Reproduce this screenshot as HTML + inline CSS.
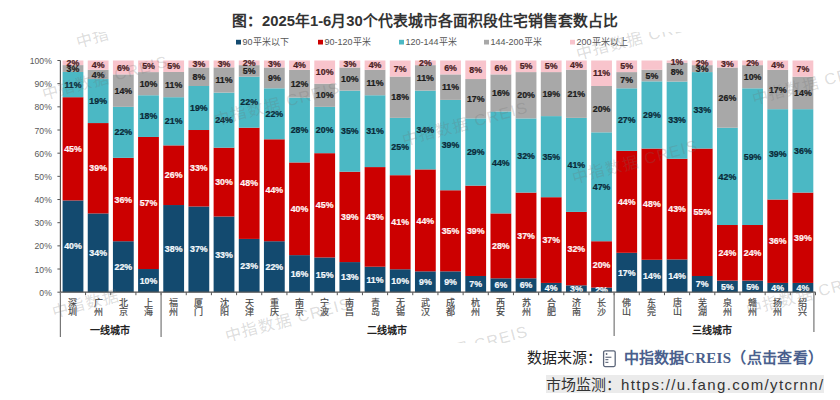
<!DOCTYPE html>
<html lang="zh-CN"><head><meta charset="utf-8">
<style>
html,body{margin:0;padding:0;background:#fff;width:840px;height:400px;overflow:hidden;}
body{position:relative;font-family:"Liberation Sans",sans-serif;}
svg{position:absolute;left:0;top:0;}
svg text{font-family:"Liberation Sans",sans-serif;font-size:9.5px;font-weight:bold;text-anchor:middle;}
svg text.yl{font-weight:normal;font-size:9.8px;fill:#595959;text-anchor:end;}
svg text.cl{font-weight:normal;font-size:9px;fill:#4a4a4a;stroke:#4a4a4a;stroke-width:0.2px;}
svg text.gl{font-weight:bold;font-size:10px;fill:#222;}
svg text.wm{font-size:16px;font-weight:normal;fill:#707070;fill-opacity:0.24;text-anchor:start;letter-spacing:1.2px;}
svg text.lg{font-weight:normal;font-size:9px;fill:#555;text-anchor:start;}
.title{position:absolute;left:232px;top:11px;line-height:20px;font-size:14.8px;font-weight:bold;color:#333;white-space:nowrap;}
.ft{position:absolute;white-space:nowrap;font-size:15px;line-height:18px;}
.src{left:527px;top:349px;color:#222;}
.brand{left:624px;top:349px;color:#4a5f8d;font-weight:bold;}
.brand .cr{font-family:"Liberation Serif",serif;letter-spacing:0.3px;}
.brand .pp{letter-spacing:0.35px;}
.mon{left:546px;top:375px;height:18px;width:278px;background:#ebebeb;color:#333;line-height:20px;overflow:hidden;}
.mon .u{letter-spacing:1.35px;}
</style></head><body>
<div class="title">图：2025年1-6月30个代表城市各面积段住宅销售套数占比</div>
<svg width="840" height="400" viewBox="0 0 840 400"><defs><clipPath id="wc"><rect x="0" y="32" width="840" height="311"/></clipPath></defs>
<rect x="62.59" y="200.44" width="20.8" height="91.76" fill="#134a6f"/>
<rect x="62.59" y="97.20" width="20.8" height="103.23" fill="#cc0000"/>
<rect x="62.59" y="71.97" width="20.8" height="25.23" fill="#4bb8c4"/>
<rect x="62.59" y="65.09" width="20.8" height="6.88" fill="#a8a8a8"/>
<rect x="62.59" y="60.50" width="20.8" height="4.59" fill="#f8c4cc"/>
<text transform="translate(72.98,249.47) scale(0.93,1)" fill="#f4f8fb" stroke="#f4f8fb" stroke-width="0.25">40%</text>
<text transform="translate(72.98,151.97) scale(0.93,1)" fill="#fff4f4" stroke="#fff4f4" stroke-width="0.25">45%</text>
<text transform="translate(72.98,87.74) scale(0.93,1)" fill="#0a2a38" stroke="#0a2a38" stroke-width="0.25">11%</text>
<text transform="translate(72.98,71.68) scale(0.93,1)" fill="#1c1c1c" stroke="#1c1c1c" stroke-width="0.25">3%</text>
<text transform="translate(72.98,65.94) scale(0.93,1)" fill="#4a1e24" stroke="#4a1e24" stroke-width="0.25">2%</text>
<rect x="87.75" y="213.42" width="20.8" height="78.78" fill="#134a6f"/>
<rect x="87.75" y="123.06" width="20.8" height="90.36" fill="#cc0000"/>
<rect x="87.75" y="79.04" width="20.8" height="44.02" fill="#4bb8c4"/>
<rect x="87.75" y="69.77" width="20.8" height="9.27" fill="#a8a8a8"/>
<rect x="87.75" y="60.50" width="20.8" height="9.27" fill="#f8c4cc"/>
<text transform="translate(98.16,255.96) scale(0.93,1)" fill="#f4f8fb" stroke="#f4f8fb" stroke-width="0.25">34%</text>
<text transform="translate(98.16,171.39) scale(0.93,1)" fill="#fff4f4" stroke="#fff4f4" stroke-width="0.25">39%</text>
<text transform="translate(98.16,104.20) scale(0.93,1)" fill="#0a2a38" stroke="#0a2a38" stroke-width="0.25">19%</text>
<text transform="translate(98.16,77.55) scale(0.93,1)" fill="#1c1c1c" stroke="#1c1c1c" stroke-width="0.25">4%</text>
<text transform="translate(98.16,68.28) scale(0.93,1)" fill="#4a1e24" stroke="#4a1e24" stroke-width="0.25">4%</text>
<rect x="112.93" y="241.23" width="20.8" height="50.97" fill="#134a6f"/>
<rect x="112.93" y="157.81" width="20.8" height="83.41" fill="#cc0000"/>
<rect x="112.93" y="106.84" width="20.8" height="50.97" fill="#4bb8c4"/>
<rect x="112.93" y="74.40" width="20.8" height="32.44" fill="#a8a8a8"/>
<rect x="112.93" y="60.50" width="20.8" height="13.90" fill="#f8c4cc"/>
<text transform="translate(123.33,269.86) scale(0.93,1)" fill="#f4f8fb" stroke="#f4f8fb" stroke-width="0.25">22%</text>
<text transform="translate(123.33,202.67) scale(0.93,1)" fill="#fff4f4" stroke="#fff4f4" stroke-width="0.25">36%</text>
<text transform="translate(123.33,135.48) scale(0.93,1)" fill="#0a2a38" stroke="#0a2a38" stroke-width="0.25">22%</text>
<text transform="translate(123.33,93.77) scale(0.93,1)" fill="#1c1c1c" stroke="#1c1c1c" stroke-width="0.25">14%</text>
<text transform="translate(123.33,70.60) scale(0.93,1)" fill="#4a1e24" stroke="#4a1e24" stroke-width="0.25">6%</text>
<rect x="138.09" y="269.03" width="20.8" height="23.17" fill="#134a6f"/>
<rect x="138.09" y="136.96" width="20.8" height="132.07" fill="#cc0000"/>
<rect x="138.09" y="95.25" width="20.8" height="41.71" fill="#4bb8c4"/>
<rect x="138.09" y="72.09" width="20.8" height="23.17" fill="#a8a8a8"/>
<rect x="138.09" y="60.50" width="20.8" height="11.59" fill="#f8c4cc"/>
<text transform="translate(148.50,283.76) scale(0.93,1)" fill="#f4f8fb" stroke="#f4f8fb" stroke-width="0.25">10%</text>
<text transform="translate(148.50,206.15) scale(0.93,1)" fill="#fff4f4" stroke="#fff4f4" stroke-width="0.25">57%</text>
<text transform="translate(148.50,119.26) scale(0.93,1)" fill="#0a2a38" stroke="#0a2a38" stroke-width="0.25">18%</text>
<text transform="translate(148.50,86.82) scale(0.93,1)" fill="#1c1c1c" stroke="#1c1c1c" stroke-width="0.25">10%</text>
<text transform="translate(148.50,69.44) scale(0.93,1)" fill="#4a1e24" stroke="#4a1e24" stroke-width="0.25">5%</text>
<rect x="163.27" y="205.03" width="20.8" height="87.17" fill="#134a6f"/>
<rect x="163.27" y="145.38" width="20.8" height="59.65" fill="#cc0000"/>
<rect x="163.27" y="97.20" width="20.8" height="48.18" fill="#4bb8c4"/>
<rect x="163.27" y="71.97" width="20.8" height="25.23" fill="#a8a8a8"/>
<rect x="163.27" y="60.50" width="20.8" height="11.47" fill="#f8c4cc"/>
<text transform="translate(173.67,251.76) scale(0.93,1)" fill="#f4f8fb" stroke="#f4f8fb" stroke-width="0.25">38%</text>
<text transform="translate(173.67,178.35) scale(0.93,1)" fill="#fff4f4" stroke="#fff4f4" stroke-width="0.25">26%</text>
<text transform="translate(173.67,124.44) scale(0.93,1)" fill="#0a2a38" stroke="#0a2a38" stroke-width="0.25">21%</text>
<text transform="translate(173.67,87.74) scale(0.93,1)" fill="#1c1c1c" stroke="#1c1c1c" stroke-width="0.25">11%</text>
<text transform="translate(173.67,69.39) scale(0.93,1)" fill="#4a1e24" stroke="#4a1e24" stroke-width="0.25">5%</text>
<rect x="188.44" y="206.47" width="20.8" height="85.73" fill="#134a6f"/>
<rect x="188.44" y="130.01" width="20.8" height="76.46" fill="#cc0000"/>
<rect x="188.44" y="85.99" width="20.8" height="44.02" fill="#4bb8c4"/>
<rect x="188.44" y="67.45" width="20.8" height="18.54" fill="#a8a8a8"/>
<rect x="188.44" y="60.50" width="20.8" height="6.95" fill="#f8c4cc"/>
<text transform="translate(198.84,252.49) scale(0.93,1)" fill="#f4f8fb" stroke="#f4f8fb" stroke-width="0.25">37%</text>
<text transform="translate(198.84,171.39) scale(0.93,1)" fill="#fff4f4" stroke="#fff4f4" stroke-width="0.25">33%</text>
<text transform="translate(198.84,111.15) scale(0.93,1)" fill="#0a2a38" stroke="#0a2a38" stroke-width="0.25">19%</text>
<text transform="translate(198.84,79.87) scale(0.93,1)" fill="#1c1c1c" stroke="#1c1c1c" stroke-width="0.25">8%</text>
<text transform="translate(198.84,67.13) scale(0.93,1)" fill="#4a1e24" stroke="#4a1e24" stroke-width="0.25">3%</text>
<rect x="213.61" y="216.50" width="20.8" height="75.70" fill="#134a6f"/>
<rect x="213.61" y="147.67" width="20.8" height="68.82" fill="#cc0000"/>
<rect x="213.61" y="92.62" width="20.8" height="55.06" fill="#4bb8c4"/>
<rect x="213.61" y="67.38" width="20.8" height="25.23" fill="#a8a8a8"/>
<rect x="213.61" y="60.50" width="20.8" height="6.88" fill="#f8c4cc"/>
<text transform="translate(224.01,257.50) scale(0.93,1)" fill="#f4f8fb" stroke="#f4f8fb" stroke-width="0.25">33%</text>
<text transform="translate(224.01,185.24) scale(0.93,1)" fill="#fff4f4" stroke="#fff4f4" stroke-width="0.25">30%</text>
<text transform="translate(224.01,123.30) scale(0.93,1)" fill="#0a2a38" stroke="#0a2a38" stroke-width="0.25">24%</text>
<text transform="translate(224.01,83.15) scale(0.93,1)" fill="#1c1c1c" stroke="#1c1c1c" stroke-width="0.25">11%</text>
<text transform="translate(224.01,67.09) scale(0.93,1)" fill="#4a1e24" stroke="#4a1e24" stroke-width="0.25">3%</text>
<rect x="238.78" y="238.91" width="20.8" height="53.29" fill="#134a6f"/>
<rect x="238.78" y="127.69" width="20.8" height="111.22" fill="#cc0000"/>
<rect x="238.78" y="76.72" width="20.8" height="50.97" fill="#4bb8c4"/>
<rect x="238.78" y="65.13" width="20.8" height="11.58" fill="#a8a8a8"/>
<rect x="238.78" y="60.50" width="20.8" height="4.63" fill="#f8c4cc"/>
<text transform="translate(249.18,268.70) scale(0.93,1)" fill="#f4f8fb" stroke="#f4f8fb" stroke-width="0.25">23%</text>
<text transform="translate(249.18,186.45) scale(0.93,1)" fill="#fff4f4" stroke="#fff4f4" stroke-width="0.25">48%</text>
<text transform="translate(249.18,105.36) scale(0.93,1)" fill="#0a2a38" stroke="#0a2a38" stroke-width="0.25">22%</text>
<text transform="translate(249.18,74.08) scale(0.93,1)" fill="#1c1c1c" stroke="#1c1c1c" stroke-width="0.25">5%</text>
<text transform="translate(249.18,65.97) scale(0.93,1)" fill="#4a1e24" stroke="#4a1e24" stroke-width="0.25">2%</text>
<rect x="263.94" y="241.23" width="20.8" height="50.97" fill="#134a6f"/>
<rect x="263.94" y="139.28" width="20.8" height="101.95" fill="#cc0000"/>
<rect x="263.94" y="88.30" width="20.8" height="50.97" fill="#4bb8c4"/>
<rect x="263.94" y="67.45" width="20.8" height="20.85" fill="#a8a8a8"/>
<rect x="263.94" y="60.50" width="20.8" height="6.95" fill="#f8c4cc"/>
<text transform="translate(274.34,269.86) scale(0.93,1)" fill="#f4f8fb" stroke="#f4f8fb" stroke-width="0.25">22%</text>
<text transform="translate(274.34,193.40) scale(0.93,1)" fill="#fff4f4" stroke="#fff4f4" stroke-width="0.25">44%</text>
<text transform="translate(274.34,116.94) scale(0.93,1)" fill="#0a2a38" stroke="#0a2a38" stroke-width="0.25">22%</text>
<text transform="translate(274.34,81.03) scale(0.93,1)" fill="#1c1c1c" stroke="#1c1c1c" stroke-width="0.25">9%</text>
<text transform="translate(274.34,67.13) scale(0.93,1)" fill="#4a1e24" stroke="#4a1e24" stroke-width="0.25">3%</text>
<rect x="289.12" y="255.13" width="20.8" height="37.07" fill="#134a6f"/>
<rect x="289.12" y="162.45" width="20.8" height="92.68" fill="#cc0000"/>
<rect x="289.12" y="97.57" width="20.8" height="64.88" fill="#4bb8c4"/>
<rect x="289.12" y="69.77" width="20.8" height="27.80" fill="#a8a8a8"/>
<rect x="289.12" y="60.50" width="20.8" height="9.27" fill="#f8c4cc"/>
<text transform="translate(299.51,276.81) scale(0.93,1)" fill="#f4f8fb" stroke="#f4f8fb" stroke-width="0.25">16%</text>
<text transform="translate(299.51,211.94) scale(0.93,1)" fill="#fff4f4" stroke="#fff4f4" stroke-width="0.25">40%</text>
<text transform="translate(299.51,133.16) scale(0.93,1)" fill="#0a2a38" stroke="#0a2a38" stroke-width="0.25">28%</text>
<text transform="translate(299.51,86.82) scale(0.93,1)" fill="#1c1c1c" stroke="#1c1c1c" stroke-width="0.25">12%</text>
<text transform="translate(299.51,68.28) scale(0.93,1)" fill="#4a1e24" stroke="#4a1e24" stroke-width="0.25">4%</text>
<rect x="314.29" y="257.44" width="20.8" height="34.75" fill="#134a6f"/>
<rect x="314.29" y="153.18" width="20.8" height="104.26" fill="#cc0000"/>
<rect x="314.29" y="106.84" width="20.8" height="46.34" fill="#4bb8c4"/>
<rect x="314.29" y="83.67" width="20.8" height="23.17" fill="#a8a8a8"/>
<rect x="314.29" y="60.50" width="20.8" height="23.17" fill="#f8c4cc"/>
<text transform="translate(324.69,277.97) scale(0.93,1)" fill="#f4f8fb" stroke="#f4f8fb" stroke-width="0.25">15%</text>
<text transform="translate(324.69,208.46) scale(0.93,1)" fill="#fff4f4" stroke="#fff4f4" stroke-width="0.25">45%</text>
<text transform="translate(324.69,133.16) scale(0.93,1)" fill="#0a2a38" stroke="#0a2a38" stroke-width="0.25">20%</text>
<text transform="translate(324.69,98.40) scale(0.93,1)" fill="#1c1c1c" stroke="#1c1c1c" stroke-width="0.25">10%</text>
<text transform="translate(324.69,75.23) scale(0.93,1)" fill="#4a1e24" stroke="#4a1e24" stroke-width="0.25">10%</text>
<rect x="339.45" y="262.08" width="20.8" height="30.12" fill="#134a6f"/>
<rect x="339.45" y="171.72" width="20.8" height="90.36" fill="#cc0000"/>
<rect x="339.45" y="90.62" width="20.8" height="81.09" fill="#4bb8c4"/>
<rect x="339.45" y="67.45" width="20.8" height="23.17" fill="#a8a8a8"/>
<rect x="339.45" y="60.50" width="20.8" height="6.95" fill="#f8c4cc"/>
<text transform="translate(349.85,280.29) scale(0.93,1)" fill="#f4f8fb" stroke="#f4f8fb" stroke-width="0.25">13%</text>
<text transform="translate(349.85,220.05) scale(0.93,1)" fill="#fff4f4" stroke="#fff4f4" stroke-width="0.25">39%</text>
<text transform="translate(349.85,134.32) scale(0.93,1)" fill="#0a2a38" stroke="#0a2a38" stroke-width="0.25">35%</text>
<text transform="translate(349.85,82.19) scale(0.93,1)" fill="#1c1c1c" stroke="#1c1c1c" stroke-width="0.25">10%</text>
<text transform="translate(349.85,67.13) scale(0.93,1)" fill="#4a1e24" stroke="#4a1e24" stroke-width="0.25">3%</text>
<rect x="364.62" y="266.71" width="20.8" height="25.49" fill="#134a6f"/>
<rect x="364.62" y="167.08" width="20.8" height="99.63" fill="#cc0000"/>
<rect x="364.62" y="95.25" width="20.8" height="71.83" fill="#4bb8c4"/>
<rect x="364.62" y="69.77" width="20.8" height="25.49" fill="#a8a8a8"/>
<rect x="364.62" y="60.50" width="20.8" height="9.27" fill="#f8c4cc"/>
<text transform="translate(375.02,282.61) scale(0.93,1)" fill="#f4f8fb" stroke="#f4f8fb" stroke-width="0.25">11%</text>
<text transform="translate(375.02,220.05) scale(0.93,1)" fill="#fff4f4" stroke="#fff4f4" stroke-width="0.25">43%</text>
<text transform="translate(375.02,134.32) scale(0.93,1)" fill="#0a2a38" stroke="#0a2a38" stroke-width="0.25">31%</text>
<text transform="translate(375.02,85.66) scale(0.93,1)" fill="#1c1c1c" stroke="#1c1c1c" stroke-width="0.25">11%</text>
<text transform="translate(375.02,68.28) scale(0.93,1)" fill="#4a1e24" stroke="#4a1e24" stroke-width="0.25">4%</text>
<rect x="389.80" y="269.26" width="20.8" height="22.94" fill="#134a6f"/>
<rect x="389.80" y="175.20" width="20.8" height="94.06" fill="#cc0000"/>
<rect x="389.80" y="117.85" width="20.8" height="57.35" fill="#4bb8c4"/>
<rect x="389.80" y="76.56" width="20.8" height="41.29" fill="#a8a8a8"/>
<rect x="389.80" y="60.50" width="20.8" height="16.06" fill="#f8c4cc"/>
<text transform="translate(400.19,283.88) scale(0.93,1)" fill="#f4f8fb" stroke="#f4f8fb" stroke-width="0.25">10%</text>
<text transform="translate(400.19,225.38) scale(0.93,1)" fill="#fff4f4" stroke="#fff4f4" stroke-width="0.25">41%</text>
<text transform="translate(400.19,149.68) scale(0.93,1)" fill="#0a2a38" stroke="#0a2a38" stroke-width="0.25">25%</text>
<text transform="translate(400.19,100.35) scale(0.93,1)" fill="#1c1c1c" stroke="#1c1c1c" stroke-width="0.25">18%</text>
<text transform="translate(400.19,71.68) scale(0.93,1)" fill="#4a1e24" stroke="#4a1e24" stroke-width="0.25">7%</text>
<rect x="414.96" y="271.35" width="20.8" height="20.85" fill="#134a6f"/>
<rect x="414.96" y="169.40" width="20.8" height="101.95" fill="#cc0000"/>
<rect x="414.96" y="90.62" width="20.8" height="78.78" fill="#4bb8c4"/>
<rect x="414.96" y="65.13" width="20.8" height="25.49" fill="#a8a8a8"/>
<rect x="414.96" y="60.50" width="20.8" height="4.63" fill="#f8c4cc"/>
<text transform="translate(425.36,284.92) scale(0.93,1)" fill="#f4f8fb" stroke="#f4f8fb" stroke-width="0.25">9%</text>
<text transform="translate(425.36,223.52) scale(0.93,1)" fill="#fff4f4" stroke="#fff4f4" stroke-width="0.25">44%</text>
<text transform="translate(425.36,133.16) scale(0.93,1)" fill="#0a2a38" stroke="#0a2a38" stroke-width="0.25">34%</text>
<text transform="translate(425.36,81.03) scale(0.93,1)" fill="#1c1c1c" stroke="#1c1c1c" stroke-width="0.25">11%</text>
<text transform="translate(425.36,65.97) scale(0.93,1)" fill="#4a1e24" stroke="#4a1e24" stroke-width="0.25">2%</text>
<rect x="440.13" y="271.35" width="20.8" height="20.85" fill="#134a6f"/>
<rect x="440.13" y="190.25" width="20.8" height="81.09" fill="#cc0000"/>
<rect x="440.13" y="99.89" width="20.8" height="90.36" fill="#4bb8c4"/>
<rect x="440.13" y="74.40" width="20.8" height="25.49" fill="#a8a8a8"/>
<rect x="440.13" y="60.50" width="20.8" height="13.90" fill="#f8c4cc"/>
<text transform="translate(450.53,284.92) scale(0.93,1)" fill="#f4f8fb" stroke="#f4f8fb" stroke-width="0.25">9%</text>
<text transform="translate(450.53,233.95) scale(0.93,1)" fill="#fff4f4" stroke="#fff4f4" stroke-width="0.25">35%</text>
<text transform="translate(450.53,148.22) scale(0.93,1)" fill="#0a2a38" stroke="#0a2a38" stroke-width="0.25">39%</text>
<text transform="translate(450.53,90.30) scale(0.93,1)" fill="#1c1c1c" stroke="#1c1c1c" stroke-width="0.25">11%</text>
<text transform="translate(450.53,70.60) scale(0.93,1)" fill="#4a1e24" stroke="#4a1e24" stroke-width="0.25">6%</text>
<rect x="465.31" y="275.98" width="20.8" height="16.22" fill="#134a6f"/>
<rect x="465.31" y="185.62" width="20.8" height="90.36" fill="#cc0000"/>
<rect x="465.31" y="118.43" width="20.8" height="67.19" fill="#4bb8c4"/>
<rect x="465.31" y="79.04" width="20.8" height="39.39" fill="#a8a8a8"/>
<rect x="465.31" y="60.50" width="20.8" height="18.54" fill="#f8c4cc"/>
<text transform="translate(475.70,287.24) scale(0.93,1)" fill="#f4f8fb" stroke="#f4f8fb" stroke-width="0.25">7%</text>
<text transform="translate(475.70,233.95) scale(0.93,1)" fill="#fff4f4" stroke="#fff4f4" stroke-width="0.25">39%</text>
<text transform="translate(475.70,155.17) scale(0.93,1)" fill="#0a2a38" stroke="#0a2a38" stroke-width="0.25">29%</text>
<text transform="translate(475.70,101.88) scale(0.93,1)" fill="#1c1c1c" stroke="#1c1c1c" stroke-width="0.25">17%</text>
<text transform="translate(475.70,72.92) scale(0.93,1)" fill="#4a1e24" stroke="#4a1e24" stroke-width="0.25">8%</text>
<rect x="490.48" y="278.30" width="20.8" height="13.90" fill="#134a6f"/>
<rect x="490.48" y="213.42" width="20.8" height="64.88" fill="#cc0000"/>
<rect x="490.48" y="111.47" width="20.8" height="101.95" fill="#4bb8c4"/>
<rect x="490.48" y="74.40" width="20.8" height="37.07" fill="#a8a8a8"/>
<rect x="490.48" y="60.50" width="20.8" height="13.90" fill="#f8c4cc"/>
<text transform="translate(500.88,288.40) scale(0.93,1)" fill="#f4f8fb" stroke="#f4f8fb" stroke-width="0.25">6%</text>
<text transform="translate(500.88,249.01) scale(0.93,1)" fill="#fff4f4" stroke="#fff4f4" stroke-width="0.25">28%</text>
<text transform="translate(500.88,165.60) scale(0.93,1)" fill="#0a2a38" stroke="#0a2a38" stroke-width="0.25">44%</text>
<text transform="translate(500.88,96.09) scale(0.93,1)" fill="#1c1c1c" stroke="#1c1c1c" stroke-width="0.25">16%</text>
<text transform="translate(500.88,70.60) scale(0.93,1)" fill="#4a1e24" stroke="#4a1e24" stroke-width="0.25">6%</text>
<rect x="515.64" y="278.30" width="20.8" height="13.90" fill="#134a6f"/>
<rect x="515.64" y="192.57" width="20.8" height="85.73" fill="#cc0000"/>
<rect x="515.64" y="118.43" width="20.8" height="74.14" fill="#4bb8c4"/>
<rect x="515.64" y="72.09" width="20.8" height="46.34" fill="#a8a8a8"/>
<rect x="515.64" y="60.50" width="20.8" height="11.59" fill="#f8c4cc"/>
<text transform="translate(526.04,288.40) scale(0.93,1)" fill="#f4f8fb" stroke="#f4f8fb" stroke-width="0.25">6%</text>
<text transform="translate(526.04,238.58) scale(0.93,1)" fill="#fff4f4" stroke="#fff4f4" stroke-width="0.25">37%</text>
<text transform="translate(526.04,158.65) scale(0.93,1)" fill="#0a2a38" stroke="#0a2a38" stroke-width="0.25">32%</text>
<text transform="translate(526.04,98.41) scale(0.93,1)" fill="#1c1c1c" stroke="#1c1c1c" stroke-width="0.25">20%</text>
<text transform="translate(526.04,69.44) scale(0.93,1)" fill="#4a1e24" stroke="#4a1e24" stroke-width="0.25">5%</text>
<rect x="540.81" y="282.93" width="20.8" height="9.27" fill="#134a6f"/>
<rect x="540.81" y="197.20" width="20.8" height="85.73" fill="#cc0000"/>
<rect x="540.81" y="116.11" width="20.8" height="81.09" fill="#4bb8c4"/>
<rect x="540.81" y="72.09" width="20.8" height="44.02" fill="#a8a8a8"/>
<rect x="540.81" y="60.50" width="20.8" height="11.59" fill="#f8c4cc"/>
<text transform="translate(551.21,290.72) scale(0.93,1)" fill="#f4f8fb" stroke="#f4f8fb" stroke-width="0.25">4%</text>
<text transform="translate(551.21,243.22) scale(0.93,1)" fill="#fff4f4" stroke="#fff4f4" stroke-width="0.25">37%</text>
<text transform="translate(551.21,159.81) scale(0.93,1)" fill="#0a2a38" stroke="#0a2a38" stroke-width="0.25">35%</text>
<text transform="translate(551.21,97.25) scale(0.93,1)" fill="#1c1c1c" stroke="#1c1c1c" stroke-width="0.25">19%</text>
<text transform="translate(551.21,69.44) scale(0.93,1)" fill="#4a1e24" stroke="#4a1e24" stroke-width="0.25">5%</text>
<rect x="565.99" y="285.32" width="20.8" height="6.88" fill="#134a6f"/>
<rect x="565.99" y="211.91" width="20.8" height="73.41" fill="#cc0000"/>
<rect x="565.99" y="117.85" width="20.8" height="94.06" fill="#4bb8c4"/>
<rect x="565.99" y="69.68" width="20.8" height="48.18" fill="#a8a8a8"/>
<rect x="565.99" y="60.50" width="20.8" height="9.18" fill="#f8c4cc"/>
<text transform="translate(576.38,291.91) scale(0.93,1)" fill="#f4f8fb" stroke="#f4f8fb" stroke-width="0.25">3%</text>
<text transform="translate(576.38,251.76) scale(0.93,1)" fill="#fff4f4" stroke="#fff4f4" stroke-width="0.25">32%</text>
<text transform="translate(576.38,168.03) scale(0.93,1)" fill="#0a2a38" stroke="#0a2a38" stroke-width="0.25">41%</text>
<text transform="translate(576.38,96.91) scale(0.93,1)" fill="#1c1c1c" stroke="#1c1c1c" stroke-width="0.25">21%</text>
<text transform="translate(576.38,68.24) scale(0.93,1)" fill="#4a1e24" stroke="#4a1e24" stroke-width="0.25">4%</text>
<rect x="591.15" y="287.57" width="20.8" height="4.63" fill="#134a6f"/>
<rect x="591.15" y="241.23" width="20.8" height="46.34" fill="#cc0000"/>
<rect x="591.15" y="132.33" width="20.8" height="108.90" fill="#4bb8c4"/>
<rect x="591.15" y="85.99" width="20.8" height="46.34" fill="#a8a8a8"/>
<rect x="591.15" y="60.50" width="20.8" height="25.49" fill="#f8c4cc"/>
<text transform="translate(601.55,293.03) scale(0.93,1)" fill="#f4f8fb" stroke="#f4f8fb" stroke-width="0.25">2%</text>
<text transform="translate(601.55,267.55) scale(0.93,1)" fill="#fff4f4" stroke="#fff4f4" stroke-width="0.25">20%</text>
<text transform="translate(601.55,189.93) scale(0.93,1)" fill="#0a2a38" stroke="#0a2a38" stroke-width="0.25">47%</text>
<text transform="translate(601.55,112.31) scale(0.93,1)" fill="#1c1c1c" stroke="#1c1c1c" stroke-width="0.25">20%</text>
<text transform="translate(601.55,76.39) scale(0.93,1)" fill="#4a1e24" stroke="#4a1e24" stroke-width="0.25">11%</text>
<rect x="616.32" y="252.81" width="20.8" height="39.39" fill="#134a6f"/>
<rect x="616.32" y="150.86" width="20.8" height="101.95" fill="#cc0000"/>
<rect x="616.32" y="88.30" width="20.8" height="62.56" fill="#4bb8c4"/>
<rect x="616.32" y="72.09" width="20.8" height="16.22" fill="#a8a8a8"/>
<rect x="616.32" y="60.50" width="20.8" height="11.59" fill="#f8c4cc"/>
<text transform="translate(626.72,275.66) scale(0.93,1)" fill="#f4f8fb" stroke="#f4f8fb" stroke-width="0.25">17%</text>
<text transform="translate(626.72,204.99) scale(0.93,1)" fill="#fff4f4" stroke="#fff4f4" stroke-width="0.25">44%</text>
<text transform="translate(626.72,122.73) scale(0.93,1)" fill="#0a2a38" stroke="#0a2a38" stroke-width="0.25">27%</text>
<text transform="translate(626.72,83.34) scale(0.93,1)" fill="#1c1c1c" stroke="#1c1c1c" stroke-width="0.25">7%</text>
<text transform="translate(626.72,69.44) scale(0.93,1)" fill="#4a1e24" stroke="#4a1e24" stroke-width="0.25">5%</text>
<rect x="641.50" y="259.76" width="20.8" height="32.44" fill="#134a6f"/>
<rect x="641.50" y="148.55" width="20.8" height="111.22" fill="#cc0000"/>
<rect x="641.50" y="81.35" width="20.8" height="67.19" fill="#4bb8c4"/>
<rect x="641.50" y="69.77" width="20.8" height="11.58" fill="#a8a8a8"/>
<rect x="641.50" y="60.50" width="20.8" height="9.27" fill="#f8c4cc"/>
<text transform="translate(651.89,279.13) scale(0.93,1)" fill="#f4f8fb" stroke="#f4f8fb" stroke-width="0.25">14%</text>
<text transform="translate(651.89,207.30) scale(0.93,1)" fill="#fff4f4" stroke="#fff4f4" stroke-width="0.25">48%</text>
<text transform="translate(651.89,118.10) scale(0.93,1)" fill="#0a2a38" stroke="#0a2a38" stroke-width="0.25">29%</text>
<text transform="translate(651.89,78.71) scale(0.93,1)" fill="#1c1c1c" stroke="#1c1c1c" stroke-width="0.25">5%</text>
<rect x="666.66" y="259.43" width="20.8" height="32.77" fill="#134a6f"/>
<rect x="666.66" y="158.80" width="20.8" height="100.64" fill="#cc0000"/>
<rect x="666.66" y="81.56" width="20.8" height="77.23" fill="#4bb8c4"/>
<rect x="666.66" y="62.84" width="20.8" height="18.72" fill="#a8a8a8"/>
<rect x="666.66" y="60.50" width="20.8" height="2.34" fill="#f8c4cc"/>
<text transform="translate(677.06,278.97) scale(0.93,1)" fill="#f4f8fb" stroke="#f4f8fb" stroke-width="0.25">14%</text>
<text transform="translate(677.06,212.27) scale(0.93,1)" fill="#fff4f4" stroke="#fff4f4" stroke-width="0.25">43%</text>
<text transform="translate(677.06,123.33) scale(0.93,1)" fill="#0a2a38" stroke="#0a2a38" stroke-width="0.25">33%</text>
<text transform="translate(677.06,75.35) scale(0.93,1)" fill="#1c1c1c" stroke="#1c1c1c" stroke-width="0.25">8%</text>
<text transform="translate(677.06,64.82) scale(0.93,1)" fill="#4a1e24" stroke="#4a1e24" stroke-width="0.25">1%</text>
<rect x="691.83" y="275.98" width="20.8" height="16.22" fill="#134a6f"/>
<rect x="691.83" y="148.55" width="20.8" height="127.44" fill="#cc0000"/>
<rect x="691.83" y="72.09" width="20.8" height="76.46" fill="#4bb8c4"/>
<rect x="691.83" y="65.13" width="20.8" height="6.95" fill="#a8a8a8"/>
<rect x="691.83" y="60.50" width="20.8" height="4.63" fill="#f8c4cc"/>
<text transform="translate(702.23,287.24) scale(0.93,1)" fill="#f4f8fb" stroke="#f4f8fb" stroke-width="0.25">7%</text>
<text transform="translate(702.23,215.41) scale(0.93,1)" fill="#fff4f4" stroke="#fff4f4" stroke-width="0.25">55%</text>
<text transform="translate(702.23,113.47) scale(0.93,1)" fill="#0a2a38" stroke="#0a2a38" stroke-width="0.25">33%</text>
<text transform="translate(702.23,71.76) scale(0.93,1)" fill="#1c1c1c" stroke="#1c1c1c" stroke-width="0.25">3%</text>
<text transform="translate(702.23,65.97) scale(0.93,1)" fill="#4a1e24" stroke="#4a1e24" stroke-width="0.25">2%</text>
<rect x="717.00" y="280.62" width="20.8" height="11.58" fill="#134a6f"/>
<rect x="717.00" y="225.01" width="20.8" height="55.61" fill="#cc0000"/>
<rect x="717.00" y="127.69" width="20.8" height="97.31" fill="#4bb8c4"/>
<rect x="717.00" y="67.45" width="20.8" height="60.24" fill="#a8a8a8"/>
<rect x="717.00" y="60.50" width="20.8" height="6.95" fill="#f8c4cc"/>
<text transform="translate(727.40,289.56) scale(0.93,1)" fill="#f4f8fb" stroke="#f4f8fb" stroke-width="0.25">5%</text>
<text transform="translate(727.40,255.96) scale(0.93,1)" fill="#fff4f4" stroke="#fff4f4" stroke-width="0.25">24%</text>
<text transform="translate(727.40,179.50) scale(0.93,1)" fill="#0a2a38" stroke="#0a2a38" stroke-width="0.25">42%</text>
<text transform="translate(727.40,100.72) scale(0.93,1)" fill="#1c1c1c" stroke="#1c1c1c" stroke-width="0.25">26%</text>
<text transform="translate(727.40,67.13) scale(0.93,1)" fill="#4a1e24" stroke="#4a1e24" stroke-width="0.25">3%</text>
<rect x="742.17" y="280.62" width="20.8" height="11.58" fill="#134a6f"/>
<rect x="742.17" y="225.01" width="20.8" height="55.61" fill="#cc0000"/>
<rect x="742.17" y="88.30" width="20.8" height="136.70" fill="#4bb8c4"/>
<rect x="742.17" y="65.13" width="20.8" height="23.17" fill="#a8a8a8"/>
<rect x="742.17" y="60.50" width="20.8" height="4.63" fill="#f8c4cc"/>
<text transform="translate(752.57,289.56) scale(0.93,1)" fill="#f4f8fb" stroke="#f4f8fb" stroke-width="0.25">5%</text>
<text transform="translate(752.57,255.96) scale(0.93,1)" fill="#fff4f4" stroke="#fff4f4" stroke-width="0.25">24%</text>
<text transform="translate(752.57,159.81) scale(0.93,1)" fill="#0a2a38" stroke="#0a2a38" stroke-width="0.25">59%</text>
<text transform="translate(752.57,79.87) scale(0.93,1)" fill="#1c1c1c" stroke="#1c1c1c" stroke-width="0.25">10%</text>
<text transform="translate(752.57,65.97) scale(0.93,1)" fill="#4a1e24" stroke="#4a1e24" stroke-width="0.25">2%</text>
<rect x="767.34" y="282.93" width="20.8" height="9.27" fill="#134a6f"/>
<rect x="767.34" y="199.52" width="20.8" height="83.41" fill="#cc0000"/>
<rect x="767.34" y="109.16" width="20.8" height="90.36" fill="#4bb8c4"/>
<rect x="767.34" y="69.77" width="20.8" height="39.39" fill="#a8a8a8"/>
<rect x="767.34" y="60.50" width="20.8" height="9.27" fill="#f8c4cc"/>
<text transform="translate(777.74,290.72) scale(0.93,1)" fill="#f4f8fb" stroke="#f4f8fb" stroke-width="0.25">4%</text>
<text transform="translate(777.74,244.38) scale(0.93,1)" fill="#fff4f4" stroke="#fff4f4" stroke-width="0.25">36%</text>
<text transform="translate(777.74,157.49) scale(0.93,1)" fill="#0a2a38" stroke="#0a2a38" stroke-width="0.25">39%</text>
<text transform="translate(777.74,92.61) scale(0.93,1)" fill="#1c1c1c" stroke="#1c1c1c" stroke-width="0.25">17%</text>
<text transform="translate(777.74,68.28) scale(0.93,1)" fill="#4a1e24" stroke="#4a1e24" stroke-width="0.25">4%</text>
<rect x="792.51" y="282.93" width="20.8" height="9.27" fill="#134a6f"/>
<rect x="792.51" y="192.57" width="20.8" height="90.36" fill="#cc0000"/>
<rect x="792.51" y="109.16" width="20.8" height="83.41" fill="#4bb8c4"/>
<rect x="792.51" y="76.72" width="20.8" height="32.44" fill="#a8a8a8"/>
<rect x="792.51" y="60.50" width="20.8" height="16.22" fill="#f8c4cc"/>
<text transform="translate(802.91,290.72) scale(0.93,1)" fill="#f4f8fb" stroke="#f4f8fb" stroke-width="0.25">4%</text>
<text transform="translate(802.91,240.90) scale(0.93,1)" fill="#fff4f4" stroke="#fff4f4" stroke-width="0.25">39%</text>
<text transform="translate(802.91,154.01) scale(0.93,1)" fill="#0a2a38" stroke="#0a2a38" stroke-width="0.25">36%</text>
<text transform="translate(802.91,96.09) scale(0.93,1)" fill="#1c1c1c" stroke="#1c1c1c" stroke-width="0.25">14%</text>
<text transform="translate(802.91,71.76) scale(0.93,1)" fill="#4a1e24" stroke="#4a1e24" stroke-width="0.25">7%</text>
<line x1="60.4" y1="292.2" x2="815.5" y2="292.2" stroke="#555" stroke-width="1.2"/>
<line x1="60.4" y1="60.5" x2="60.4" y2="292.2" stroke="#555" stroke-width="1.2"/>
<line x1="57.4" y1="292.20" x2="60.4" y2="292.20" stroke="#555" stroke-width="1"/>
<text class="yl" transform="translate(51.80,295.80) scale(0.88,1)">0%</text>
<line x1="57.4" y1="269.03" x2="60.4" y2="269.03" stroke="#555" stroke-width="1"/>
<text class="yl" transform="translate(51.80,272.63) scale(0.88,1)">10%</text>
<line x1="57.4" y1="245.86" x2="60.4" y2="245.86" stroke="#555" stroke-width="1"/>
<text class="yl" transform="translate(51.80,249.46) scale(0.88,1)">20%</text>
<line x1="57.4" y1="222.69" x2="60.4" y2="222.69" stroke="#555" stroke-width="1"/>
<text class="yl" transform="translate(51.80,226.29) scale(0.88,1)">30%</text>
<line x1="57.4" y1="199.52" x2="60.4" y2="199.52" stroke="#555" stroke-width="1"/>
<text class="yl" transform="translate(51.80,203.12) scale(0.88,1)">40%</text>
<line x1="57.4" y1="176.35" x2="60.4" y2="176.35" stroke="#555" stroke-width="1"/>
<text class="yl" transform="translate(51.80,179.95) scale(0.88,1)">50%</text>
<line x1="57.4" y1="153.18" x2="60.4" y2="153.18" stroke="#555" stroke-width="1"/>
<text class="yl" transform="translate(51.80,156.78) scale(0.88,1)">60%</text>
<line x1="57.4" y1="130.01" x2="60.4" y2="130.01" stroke="#555" stroke-width="1"/>
<text class="yl" transform="translate(51.80,133.61) scale(0.88,1)">70%</text>
<line x1="57.4" y1="106.84" x2="60.4" y2="106.84" stroke="#555" stroke-width="1"/>
<text class="yl" transform="translate(51.80,110.44) scale(0.88,1)">80%</text>
<line x1="57.4" y1="83.67" x2="60.4" y2="83.67" stroke="#555" stroke-width="1"/>
<text class="yl" transform="translate(51.80,87.27) scale(0.88,1)">90%</text>
<line x1="57.4" y1="60.50" x2="60.4" y2="60.50" stroke="#555" stroke-width="1"/>
<text class="yl" transform="translate(51.80,64.10) scale(0.88,1)">100%</text>
<line x1="60.40" y1="292.2" x2="60.40" y2="295.2" stroke="#555" stroke-width="1"/>
<line x1="85.57" y1="292.2" x2="85.57" y2="295.2" stroke="#555" stroke-width="1"/>
<line x1="110.74" y1="292.2" x2="110.74" y2="295.2" stroke="#555" stroke-width="1"/>
<line x1="135.91" y1="292.2" x2="135.91" y2="295.2" stroke="#555" stroke-width="1"/>
<line x1="161.08" y1="292.2" x2="161.08" y2="295.2" stroke="#555" stroke-width="1"/>
<line x1="186.25" y1="292.2" x2="186.25" y2="295.2" stroke="#555" stroke-width="1"/>
<line x1="211.42" y1="292.2" x2="211.42" y2="295.2" stroke="#555" stroke-width="1"/>
<line x1="236.59" y1="292.2" x2="236.59" y2="295.2" stroke="#555" stroke-width="1"/>
<line x1="261.76" y1="292.2" x2="261.76" y2="295.2" stroke="#555" stroke-width="1"/>
<line x1="286.93" y1="292.2" x2="286.93" y2="295.2" stroke="#555" stroke-width="1"/>
<line x1="312.10" y1="292.2" x2="312.10" y2="295.2" stroke="#555" stroke-width="1"/>
<line x1="337.27" y1="292.2" x2="337.27" y2="295.2" stroke="#555" stroke-width="1"/>
<line x1="362.44" y1="292.2" x2="362.44" y2="295.2" stroke="#555" stroke-width="1"/>
<line x1="387.61" y1="292.2" x2="387.61" y2="295.2" stroke="#555" stroke-width="1"/>
<line x1="412.78" y1="292.2" x2="412.78" y2="295.2" stroke="#555" stroke-width="1"/>
<line x1="437.95" y1="292.2" x2="437.95" y2="295.2" stroke="#555" stroke-width="1"/>
<line x1="463.12" y1="292.2" x2="463.12" y2="295.2" stroke="#555" stroke-width="1"/>
<line x1="488.29" y1="292.2" x2="488.29" y2="295.2" stroke="#555" stroke-width="1"/>
<line x1="513.46" y1="292.2" x2="513.46" y2="295.2" stroke="#555" stroke-width="1"/>
<line x1="538.63" y1="292.2" x2="538.63" y2="295.2" stroke="#555" stroke-width="1"/>
<line x1="563.80" y1="292.2" x2="563.80" y2="295.2" stroke="#555" stroke-width="1"/>
<line x1="588.97" y1="292.2" x2="588.97" y2="295.2" stroke="#555" stroke-width="1"/>
<line x1="614.14" y1="292.2" x2="614.14" y2="295.2" stroke="#555" stroke-width="1"/>
<line x1="639.31" y1="292.2" x2="639.31" y2="295.2" stroke="#555" stroke-width="1"/>
<line x1="664.48" y1="292.2" x2="664.48" y2="295.2" stroke="#555" stroke-width="1"/>
<line x1="689.65" y1="292.2" x2="689.65" y2="295.2" stroke="#555" stroke-width="1"/>
<line x1="714.82" y1="292.2" x2="714.82" y2="295.2" stroke="#555" stroke-width="1"/>
<line x1="739.99" y1="292.2" x2="739.99" y2="295.2" stroke="#555" stroke-width="1"/>
<line x1="765.16" y1="292.2" x2="765.16" y2="295.2" stroke="#555" stroke-width="1"/>
<line x1="790.33" y1="292.2" x2="790.33" y2="295.2" stroke="#555" stroke-width="1"/>
<line x1="815.50" y1="292.2" x2="815.50" y2="295.2" stroke="#555" stroke-width="1"/>
<line x1="60.40" y1="292.2" x2="60.40" y2="337" stroke="#777" stroke-width="1.2"/>
<line x1="161.08" y1="292.2" x2="161.08" y2="337" stroke="#777" stroke-width="1.2"/>
<line x1="614.14" y1="292.2" x2="614.14" y2="336" stroke="#777" stroke-width="1.2"/>
<line x1="813.90" y1="292.2" x2="813.90" y2="332" stroke="#777" stroke-width="1.2"/>
<text class="cl" x="72.98" y="305.5">深</text>
<text class="cl" x="72.98" y="315">圳</text>
<text class="cl" x="98.16" y="305.5">广</text>
<text class="cl" x="98.16" y="315">州</text>
<text class="cl" x="123.33" y="305.5">北</text>
<text class="cl" x="123.33" y="315">京</text>
<text class="cl" x="148.50" y="305.5">上</text>
<text class="cl" x="148.50" y="315">海</text>
<text class="cl" x="173.67" y="305.5">福</text>
<text class="cl" x="173.67" y="315">州</text>
<text class="cl" x="198.84" y="305.5">厦</text>
<text class="cl" x="198.84" y="315">门</text>
<text class="cl" x="224.01" y="305.5">沈</text>
<text class="cl" x="224.01" y="315">阳</text>
<text class="cl" x="249.18" y="305.5">天</text>
<text class="cl" x="249.18" y="315">津</text>
<text class="cl" x="274.34" y="305.5">重</text>
<text class="cl" x="274.34" y="315">庆</text>
<text class="cl" x="299.51" y="305.5">南</text>
<text class="cl" x="299.51" y="315">京</text>
<text class="cl" x="324.69" y="305.5">宁</text>
<text class="cl" x="324.69" y="315">波</text>
<text class="cl" x="349.85" y="305.5">南</text>
<text class="cl" x="349.85" y="315">昌</text>
<text class="cl" x="375.02" y="305.5">青</text>
<text class="cl" x="375.02" y="315">岛</text>
<text class="cl" x="400.19" y="305.5">无</text>
<text class="cl" x="400.19" y="315">锡</text>
<text class="cl" x="425.36" y="305.5">武</text>
<text class="cl" x="425.36" y="315">汉</text>
<text class="cl" x="450.53" y="305.5">成</text>
<text class="cl" x="450.53" y="315">都</text>
<text class="cl" x="475.70" y="305.5">杭</text>
<text class="cl" x="475.70" y="315">州</text>
<text class="cl" x="500.88" y="305.5">西</text>
<text class="cl" x="500.88" y="315">安</text>
<text class="cl" x="526.05" y="305.5">苏</text>
<text class="cl" x="526.05" y="315">州</text>
<text class="cl" x="551.22" y="305.5">合</text>
<text class="cl" x="551.22" y="315">肥</text>
<text class="cl" x="576.39" y="305.5">济</text>
<text class="cl" x="576.39" y="315">南</text>
<text class="cl" x="601.56" y="305.5">长</text>
<text class="cl" x="601.56" y="315">沙</text>
<text class="cl" x="626.73" y="305.5">佛</text>
<text class="cl" x="626.73" y="315">山</text>
<text class="cl" x="651.90" y="305.5">东</text>
<text class="cl" x="651.90" y="315">莞</text>
<text class="cl" x="677.07" y="305.5">唐</text>
<text class="cl" x="677.07" y="315">山</text>
<text class="cl" x="702.24" y="305.5">芜</text>
<text class="cl" x="702.24" y="315">湖</text>
<text class="cl" x="727.41" y="305.5">泉</text>
<text class="cl" x="727.41" y="315">州</text>
<text class="cl" x="752.58" y="305.5">赣</text>
<text class="cl" x="752.58" y="315">州</text>
<text class="cl" x="777.75" y="305.5">扬</text>
<text class="cl" x="777.75" y="315">州</text>
<text class="cl" x="802.92" y="305.5">绍</text>
<text class="cl" x="802.92" y="315">兴</text>
<text class="gl" x="110" y="333.5">一线城市</text>
<text class="gl" x="387" y="333.5">二线城市</text>
<text class="gl" x="712" y="333.5">三线城市</text>
<rect x="236" y="39.8" width="5" height="4.7" fill="#134a6f"/>
<text class="lg" x="242.5" y="45.3">90平米以下</text>
<rect x="318" y="39.8" width="5" height="4.7" fill="#cc0000"/>
<text class="lg" x="324.5" y="45.3">90-120平米</text>
<rect x="399" y="39.8" width="5" height="4.7" fill="#4bb8c4"/>
<text class="lg" x="405.5" y="45.3">120-144平米</text>
<rect x="484" y="39.8" width="5" height="4.7" fill="#a8a8a8"/>
<text class="lg" x="490.5" y="45.3">144-200平米</text>
<rect x="570" y="39.8" width="5" height="4.7" fill="#f8c4cc"/>
<text class="lg" x="576.5" y="45.3">200平米以上</text>
<g clip-path="url(#wc)"><g transform="translate(222,118) rotate(-15)"><text class="wm" x="-8" y="6">中指数据<tspan dx="6">CREIS</tspan></text></g>
<g transform="translate(410,362) rotate(-15)"><text class="wm" x="-8" y="6">中指数据<tspan dx="6">CREIS</tspan></text></g>
<g transform="translate(233,334) rotate(-15)"><text class="wm" x="-8" y="6">中指数据<tspan dx="6">CREIS</tspan></text></g>
<g transform="translate(410,138) rotate(-15)"><text class="wm" x="-8" y="6">中指数据<tspan dx="6">CREIS</tspan></text></g>
<g transform="translate(584,52) rotate(-15)"><text class="wm" x="-8" y="6">中指数据<tspan dx="6">CREIS</tspan></text></g>
<g transform="translate(50,92) rotate(-15)"><text class="wm" x="-8" y="6">中指数据<tspan dx="6">CREIS</tspan></text></g>
<g transform="translate(580,176) rotate(-15)"><text class="wm" x="-8" y="6">中指数据<tspan dx="6">CREIS</tspan></text></g>
<g transform="translate(754,308) rotate(-15)"><text class="wm" x="-8" y="6">中指数据<tspan dx="6">CREIS</tspan></text></g>
<g transform="translate(760,97) rotate(-15)"><text class="wm" x="-8" y="6">中指数据<tspan dx="6">CREIS</tspan></text></g>
<g transform="translate(60,310) rotate(-15)"><text class="wm" x="-8" y="6">中指数据</text></g>
<g transform="translate(84,40) rotate(-15)"><text class="wm" x="-8" y="6">中指</text></g></g>
</svg>
<div class="ft src">数据来源：</div>
<svg style="position:absolute;left:600px;top:348px" width="20" height="22" viewBox="0 0 20 22"><rect x="3.6" y="2.8" width="11.6" height="15.8" rx="1.5" fill="none" stroke="#5b6579" stroke-width="1.3"/><circle cx="6.6" cy="6" r="0.9" fill="#5b6579"/><rect x="5.4" y="8.7" width="6" height="1.1" fill="#5b6579"/><rect x="5.4" y="11.1" width="3" height="1.1" fill="#5b6579"/><rect x="5.4" y="13.8" width="3" height="1.1" fill="#5b6579"/></svg>
<div class="ft brand">中指数据<span class="cr">CREIS</span><span class="pp">（点击查看）</span></div>
<div class="ft mon">市场监测：<span class="u">https://u.fang.com/ytcrnn/</span></div>
</body></html>
